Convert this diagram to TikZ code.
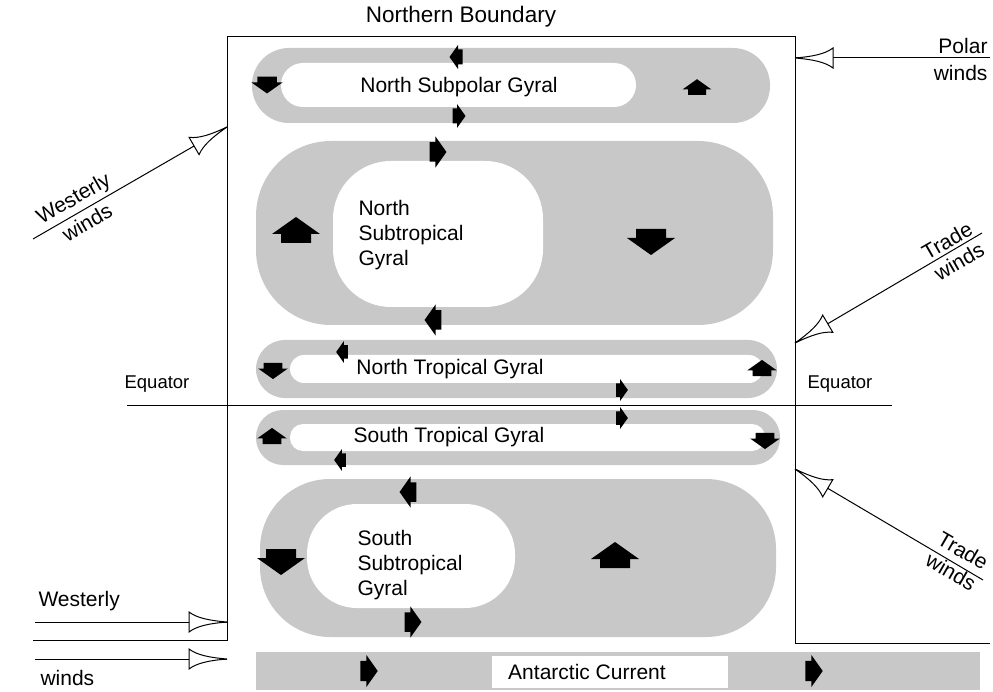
\documentclass[tikz,border=0pt]{standalone}
\usepackage{fontspec}
\setmainfont{Liberation Sans}
\usetikzlibrary{positioning}
\definecolor{bandgray}{RGB}{200,200,200}
\tikzset{
  band/.style={fill=bandgray},
  hole/.style={fill=white},
  lbl/.style={font=\fontsize{21}{25}\selectfont,inner sep=0pt},
  pics/flow/.style={code={\fill[black] (-13,-15) -- (-4,-15) -- (-4,-24) -- (13,0) -- (-4,24) -- (-4,15) -- (-13,15) -- cycle;}},
  pics/windtip/.style={code={\draw[fill=white] (0,0) .. controls (-18,-1.5) and (-30,-4) .. (-38,-10) -- (-38,10) .. controls (-30,4) and (-18,1.5) .. (0,0) -- cycle;}}
}
\begin{document}
\begin{tikzpicture}[x=1pt,y=-1pt,line width=1pt]
  \useasboundingbox (0,0) rectangle (993,692);
  % gyres
  \fill[band,rounded corners=37pt] (252,48) rectangle (770,123);
  \fill[hole,rounded corners=22pt] (281,63) rectangle (636,107);
  \fill[band,rounded corners=75pt] (256,141) rectangle (773,325);
  \fill[hole,rounded corners=58pt] (333,161) rectangle (543,307);
  \fill[band,rounded corners=29pt] (256,340) rectangle (777,398);
  \fill[hole,rounded corners=14pt] (290,355) rectangle (763,383);
  \fill[band,rounded corners=27pt] (256,410) rectangle (780,465);
  \fill[hole,rounded corners=13pt] (290,424) rectangle (765,451);
  \fill[band,rounded corners=70pt] (260,479) rectangle (776,637);
  \fill[hole,rounded corners=50pt] (307,504) rectangle (515,608);
  \fill[band] (256,652) rectangle (980,690);
  \fill[hole] (492,656) rectangle (728,688);
  % basin and equator
  \draw (33,640) -- (227,640) -- (227,37) -- (795,37) -- (795,643) -- (990,643);
  \draw (127,405) -- (892,405);
  % flow arrows
  \foreach \x/\y/\a/\s in {456/57/180/0.5, 459/116/0/0.5, 267/85/270/0.65, 697/87/90/0.6,
      438/152/0/0.65, 433/320/180/0.65, 296/230/90/1, 651/242/270/1,
      342/352/180/0.45, 273/371/270/0.62, 762/368/90/0.62, 622/390/0/0.45,
      622/418/0/0.45, 272/436/90/0.62, 765/441/270/0.62, 340/460/180/0.45,
      408/492/180/0.65, 281/562/270/1, 615/555/90/1, 413/622/0/0.65,
      369/671/0/0.67, 814/671/0/0.67}
    \pic[rotate=\a,scale=\s] at (\x,\y) {flow};
  % winds
  \coordinate (polarS) at (990,58);
  \coordinate (polarT) at (795,58);
  \coordinate (westS) at (33,239);
  \coordinate (westT) at (227,127);
  \coordinate (tradeNS) at (982,233);
  \coordinate (tradeNT) at (795,343);
  \coordinate (tradeSS) at (983,580);
  \coordinate (tradeST) at (795,469);
  \coordinate (westAS) at (35,622);
  \coordinate (westAT) at (227,622);
  \coordinate (westBS) at (35,659);
  \coordinate (westBT) at (227,659);
  \draw (polarS) -- (polarT);
  \draw (westS) -- (westT);
  \draw (tradeNS) -- (tradeNT);
  \draw (tradeSS) -- (tradeST);
  \draw (westAS) -- (westAT);
  \draw (westBS) -- (westBT);
  \pic[rotate=180] at (polarT) {windtip};
  \pic[rotate=30] at (westT) {windtip};
  \pic[rotate=210.5] at (tradeNT) {windtip};
  \pic[rotate=149.5] at (tradeST) {windtip};
  \pic at (westAT) {windtip};
  \pic at (westBT) {windtip};
  % labels
  \node[lbl,font=\fontsize{22.5}{26}\selectfont] (nb) at (461,17) {Northern Boundary};
  \node[lbl] (nsp) at (459,87) {North Subpolar Gyral};
  \node[lbl,align=left,anchor=west] (nst) at (358,235) {North\\Subtropical\\Gyral};
  \node[lbl] (ntg) at (450,369) {North Tropical Gyral};
  \node[lbl] (stg) at (449,437) {South Tropical Gyral};
  \node[lbl,align=left,anchor=west] (sst) at (357,565) {South\\Subtropical\\Gyral};
  \node[lbl] (ac) at (587,672) {Antarctic Current};
  \node[lbl,font=\fontsize{18.5}{22}\selectfont] (eqL) at (157,384) {Equator};
  \node[lbl,font=\fontsize{18.5}{22}\selectfont] (eqR) at (840,384) {Equator};
  \node[lbl,anchor=east,align=right,font=\fontsize{21}{27}\selectfont] (polar) at (988,59) {Polar\\winds};
  \node[lbl,rotate=30,align=center,font=\fontsize{21}{28}\selectfont] (westd) at (80,210) {Westerly\\winds};
  \node[lbl,rotate=30,align=center,font=\fontsize{21}{24}\selectfont] (tradeN) at (953,251) {Trade\\winds};
  \node[lbl,rotate=-30,align=center,font=\fontsize{21}{24}\selectfont] (tradeS) at (957,561) {Trade\\winds};
  \node[lbl,anchor=west] (westl) at (38,601) {Westerly};
  \node[lbl,anchor=west] (westlw) at (40,678) {winds};
\end{tikzpicture}
\end{document}
